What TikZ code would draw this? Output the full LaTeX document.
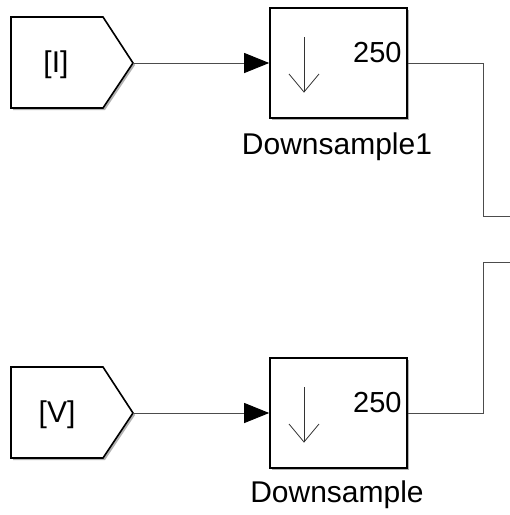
\documentclass[tikz,border=0pt]{standalone}
\usepackage{fontspec}
\setmainfont{Liberation Sans}
\usetikzlibrary{arrows.meta,shadows}
\begin{document}
\begin{tikzpicture}[x=1pt,y=-1pt,
  tagshape/.style={draw=black,line width=1.6pt,fill=white,line join=miter,
    drop shadow={shadow xshift=2pt,shadow yshift=-2pt,opacity=0.3,fill=black}},
  blk/.style={draw=black,line width=1.6pt,fill=white,minimum width=137pt,minimum height=110pt,
    inner sep=0pt,drop shadow={shadow xshift=2pt,shadow yshift=-2pt,opacity=0.3,fill=black}},
  txt/.style={font=\fontsize{30}{32}\selectfont,inner sep=0pt},
  numtxt/.style={font=\fontsize{29}{31}\selectfont,inner sep=0pt},
  wire/.style={draw=black!70,line width=0.9pt},
  sig/.style={wire,-{Triangle[length=25pt,width=20pt,color=black]}},
  glyph/.style={draw=black!80,line width=0.8pt}
]
\useasboundingbox (0,0) rectangle (510,515);
% --- upper row
\coordinate (tipI) at (133,63);
\path[tagshape] (11,17) -- (103,17) -- (tipI) -- (103,108) -- (11,108) -- cycle;
\node[txt] (tI) at (56,65) {[I]};
\node[blk] (ds1) at (338.5,63) {};
\node[numtxt,anchor=east] (n1) at ([xshift=-6pt,yshift=10pt]ds1.east) {250};
\draw[glyph] ([xshift=-34.5pt,yshift=26pt]ds1.center) -- ([xshift=-34.5pt,yshift=-29pt]ds1.center);
\draw[glyph] ([xshift=-49.5pt,yshift=-11pt]ds1.center) -- ([xshift=-34.5pt,yshift=-29pt]ds1.center) -- ([xshift=-19.5pt,yshift=-11pt]ds1.center);
\node[txt] (l1) at (337,147) {Downsample1};
\draw[sig] (tipI) -- (ds1.west);
\coordinate (out1) at (510,216);
\draw[wire] (ds1.east) -- ++(76,0) |- (out1);
% --- lower row
\coordinate (tipV) at (133,413);
\path[tagshape] (11,367) -- (103,367) -- (tipV) -- (103,458) -- (11,458) -- cycle;
\node[txt] (tV) at (57,415) {[V]};
\node[blk] (ds2) at (338.5,413) {};
\node[numtxt,anchor=east] (n2) at ([xshift=-6pt,yshift=10pt]ds2.east) {250};
\draw[glyph] ([xshift=-34.5pt,yshift=26pt]ds2.center) -- ([xshift=-34.5pt,yshift=-29pt]ds2.center);
\draw[glyph] ([xshift=-49.5pt,yshift=-11pt]ds2.center) -- ([xshift=-34.5pt,yshift=-29pt]ds2.center) -- ([xshift=-19.5pt,yshift=-11pt]ds2.center);
\node[txt] (l2) at (337,495) {Downsample};
\draw[sig] (tipV) -- (ds2.west);
\coordinate (out2) at (510,262);
\draw[wire] (ds2.east) -- ++(76,0) |- (out2);
\end{tikzpicture}
\end{document}
